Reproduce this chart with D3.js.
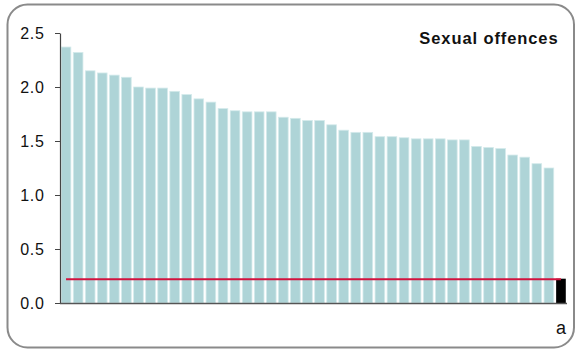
<!DOCTYPE html>
<html>
<head>
<meta charset="utf-8">
<script src="https://cdn.jsdelivr.net/npm/d3@7"></script>
<style>
  html, body { margin: 0; padding: 0; background: #fff; }
  svg { display: block; font-family: "Liberation Sans", Arial, sans-serif; }
</style>
</head>
<body>
<svg id="chart" width="577" height="350"></svg>
<script>
// ---- data ----
const categories = [
  "c01","c02","c03","c04","c05","c06","c07","c08","c09","c10",
  "c11","c12","c13","c14","c15","c16","c17","c18","c19","c20",
  "c21","c22","c23","c24","c25","c26","c27","c28","c29","c30",
  "c31","c32","c33","c34","c35","c36","c37","c38","c39","c40",
  "c41","a"
];
const values = [
  2.37, 2.32, 2.15, 2.13, 2.11, 2.09, 2.00, 1.99, 1.99, 1.96,
  1.93, 1.89, 1.86, 1.80, 1.78, 1.77, 1.77, 1.77, 1.72, 1.71,
  1.69, 1.69, 1.65, 1.60, 1.58, 1.58, 1.54, 1.54, 1.53, 1.52,
  1.52, 1.52, 1.51, 1.51, 1.45, 1.44, 1.43, 1.37, 1.35, 1.29,
  1.25, 0.225
];
const highlight = ["a"];
const referenceValue = 0.22;
const yTicks = [0, 0.5, 1.0, 1.5, 2.0, 2.5];
const xLabels = ["a"];
const title = "Sexual offences";

// ---- chart ----
(function () {
const svg = d3.select("#chart");
const mLeft = 60, mRight = 567, mTop = 33, mBottom = 303;

svg.append("rect")
  .attr("x", 7.5).attr("y", 4.5)
  .attr("width", 566.5).attr("height", 343)
  .attr("rx", 20).attr("ry", 20)
  .attr("fill", "#fff")
  .attr("stroke", "#8a8a8a")
  .attr("stroke-width", 2);

const x = d3.scaleBand()
  .domain(categories)
  .range([mLeft, mRight])
  .paddingInner(0.2)
  .paddingOuter(0.1);

const y = d3.scaleLinear()
  .domain([0, 2.5])
  .range([mBottom, mTop]);

const data = categories.map((c, i) => ({ c, v: values[i] }));

svg.append("g")
  .selectAll("rect")
  .data(data)
  .join("rect")
  .attr("x", d => x(d.c))
  .attr("width", x.bandwidth())
  .attr("y", d => y(d.v))
  .attr("height", d => y(0) - y(d.v))
  .attr("fill", d => highlight.includes(d.c) ? "#000" : "#aed4d7")
  .attr("stroke", d => highlight.includes(d.c) ? "none" : "#d4eaeb")
  .attr("stroke-width", 0.8);

// reference line
svg.append("line")
  .attr("x1", x(categories[0]) + x.bandwidth() / 2)
  .attr("x2", x(categories[categories.length - 1]) + x.bandwidth() / 2)
  .attr("y1", y(referenceValue))
  .attr("y2", y(referenceValue))
  .attr("stroke", "#d2123e")
  .attr("stroke-width", 2);

// y axis
const yAxis = svg.append("g")
  .attr("transform", `translate(${mLeft},0)`)
  .call(d3.axisLeft(y).tickValues(yTicks).tickFormat(d3.format(".1f")).tickSize(5).tickSizeOuter(0).tickPadding(11));
yAxis.select(".domain").attr("stroke", "#444").attr("stroke-width", 1.2);
yAxis.selectAll(".tick line").attr("stroke", "#444");
yAxis.selectAll(".tick text")
  .attr("fill", "#111")
  .attr("dx", "0.8")
  .style("font-size", "16px")
  .style("letter-spacing", "0.8px")
  .style("font-family", "'Liberation Sans', Arial, sans-serif");

// x axis line
svg.append("line")
  .attr("x1", mLeft).attr("x2", mRight)
  .attr("y1", mBottom + 0.5).attr("y2", mBottom + 0.5)
  .attr("stroke", "#555").attr("stroke-width", 1.5);

// x label(s)
svg.append("g")
  .selectAll("text")
  .data(xLabels)
  .join("text")
  .attr("x", d => x(d) + x.bandwidth() / 2)
  .attr("y", 333.5)
  .attr("text-anchor", "middle")
  .attr("fill", "#111")
  .style("font-size", "18px")
  .text(d => d);

// title
svg.append("text")
  .attr("x", 558.5)
  .attr("y", 43.5)
  .attr("text-anchor", "end")
  .attr("fill", "#111")
  .style("font-size", "16.5px")
  .style("font-weight", "bold")
  .style("letter-spacing", "0.9px")
  .text(title);
})();
</script>
</body>
</html>
